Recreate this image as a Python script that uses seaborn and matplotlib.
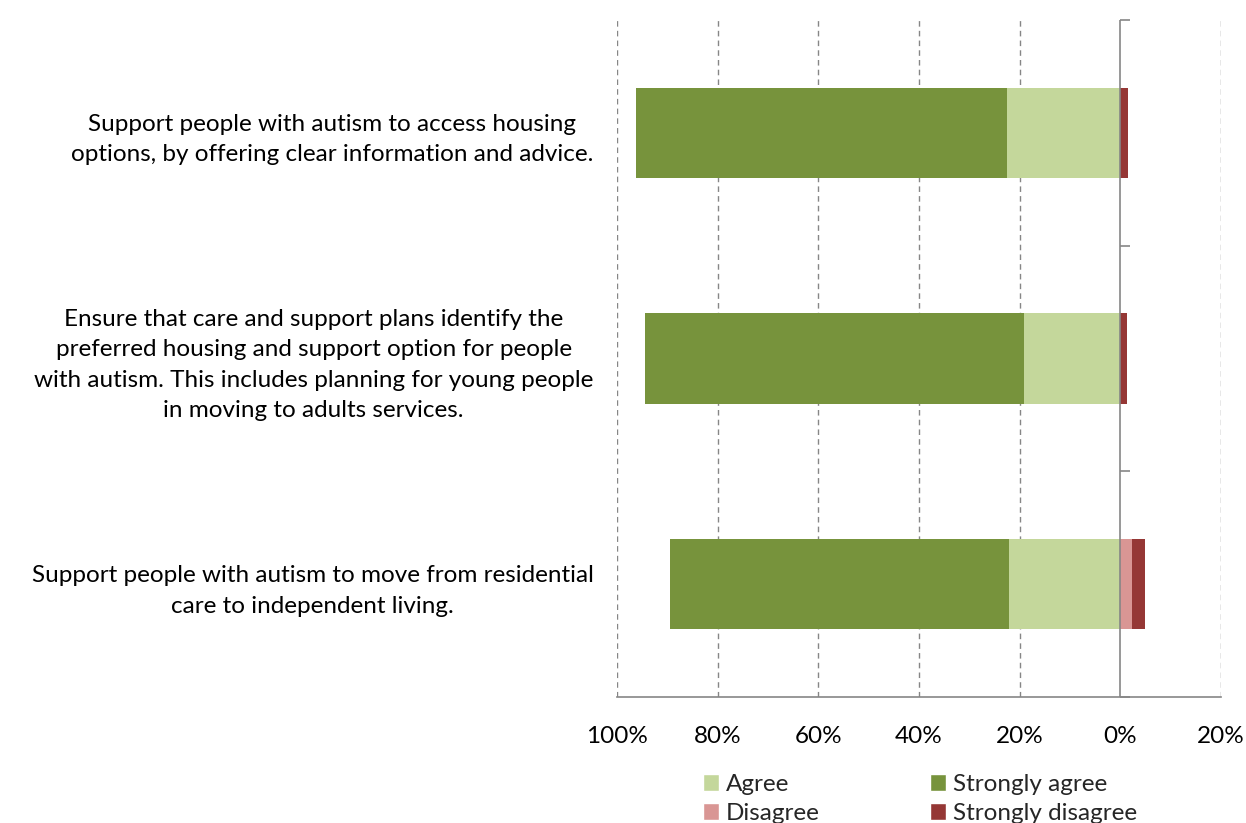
import matplotlib
matplotlib.use("Agg")
import matplotlib.pyplot as plt
from matplotlib.patches import Patch
from matplotlib.ticker import FixedLocator, FuncFormatter
import seaborn as sns
import pandas as pd

statements = [
    "Support people with autism to access housing\noptions, by offering clear information and advice.",
    "Ensure that care and support plans identify the\npreferred housing and support option for people\nwith autism. This includes planning for young people\nin moving to adults services.",
    "Support people with autism to move from residential\ncare to independent living.",
]
agree = [22.5, 19.2, 22.1]
strongly_agree = [73.8, 75.2, 67.4]
disagree = [0.0, 0.0, 2.4]
strongly_disagree = [1.5, 1.4, 2.4]
tick_values = [100, 80, 60, 40, 20, 0, -20]

colors = {
    "Agree": "#C4D79B",
    "Strongly agree": "#77933C",
    "Disagree": "#D99694",
    "Strongly disagree": "#953735",
}

df = pd.DataFrame({
    "statement": statements,
    "agree": agree,
    "strongly_agree": strongly_agree,
    "disagree": disagree,
    "strongly_disagree": strongly_disagree,
})
# cumulative extents: agreement drawn to the positive side, disagreement negative
df["agree_total"] = df["agree"] + df["strongly_agree"]
df["disagree_total"] = -(df["disagree"] + df["strongly_disagree"])
df["disagree_neg"] = -df["disagree"]

sns.set_style("white")
plt.rcParams["font.family"] = ["Lato", "DejaVu Sans"]
FS = 17.5

fig = plt.figure(figsize=(12.46, 8.23), dpi=100)
ax = fig.add_axes([0.4952, 0.1531, 0.4848, 0.8226])

bar_w = 0.4
for col, color in [("agree_total", colors["Strongly agree"]),
                   ("agree", colors["Agree"]),
                   ("disagree_total", colors["Strongly disagree"]),
                   ("disagree_neg", colors["Disagree"])]:
    sns.barplot(data=df, x=col, y="statement", orient="h", color=color,
                width=bar_w, saturation=1, ax=ax, edgecolor="none", zorder=3)

ax.set_xlim(100, -20)
ax.set_ylim(2.5, -0.5)
ax.set_xlabel("")
ax.set_ylabel("")

grid_color = "#868686"
for v in tick_values:
    if v != 0:
        ax.axvline(v, color=grid_color, linestyle=(0, (4, 3)), linewidth=1.0, zorder=1)
# zero reference axis
ax.axvline(0, color=grid_color, linewidth=1.2, zorder=4)

for s in ["top", "right", "left"]:
    ax.spines[s].set_visible(False)
ax.spines["bottom"].set_color(grid_color)
ax.spines["bottom"].set_linewidth(1.2)

ax.xaxis.set_major_locator(FixedLocator(tick_values))
ax.xaxis.set_major_formatter(FuncFormatter(lambda v, p: f"{abs(v):.0f}%"))
ax.tick_params(axis="x", direction="inout", length=14, width=1.2, color=grid_color,
               labelsize=FS, pad=14, labelcolor="black")

ax.tick_params(axis="y", length=0, pad=17, labelsize=FS, labelcolor="black")
for lbl in ax.get_yticklabels():
    lbl.set_multialignment("center")
    lbl.set_linespacing(1.55)

# category boundary ticks on the zero axis
zero_frac = (100 - 0) / 120
sec = ax.secondary_yaxis(zero_frac)
for sp in sec.spines.values():
    sp.set_visible(False)
sec.set_yticks([-0.5, 0.5, 1.5, 2.5])
sec.set_yticklabels([])
sec.tick_params(axis="y", direction="out", length=7, width=1.2, color=grid_color)

handles = [
    Patch(facecolor=colors["Agree"], label="Agree"),
    Patch(facecolor=colors["Disagree"], label="Disagree"),
    Patch(facecolor=colors["Strongly agree"], label="Strongly agree"),
    Patch(facecolor=colors["Strongly disagree"], label="Strongly disagree"),
]
fig.legend(handles=handles, ncol=2, loc="upper left",
           bbox_to_anchor=(703 / 1246, 1 - 774 / 823), frameon=False,
           fontsize=FS, handlelength=0.65, handleheight=0.65, handletextpad=0.28,
           columnspacing=4.55, labelspacing=0.33, borderaxespad=0, borderpad=0)

fig.savefig("out.png", dpi=100)
